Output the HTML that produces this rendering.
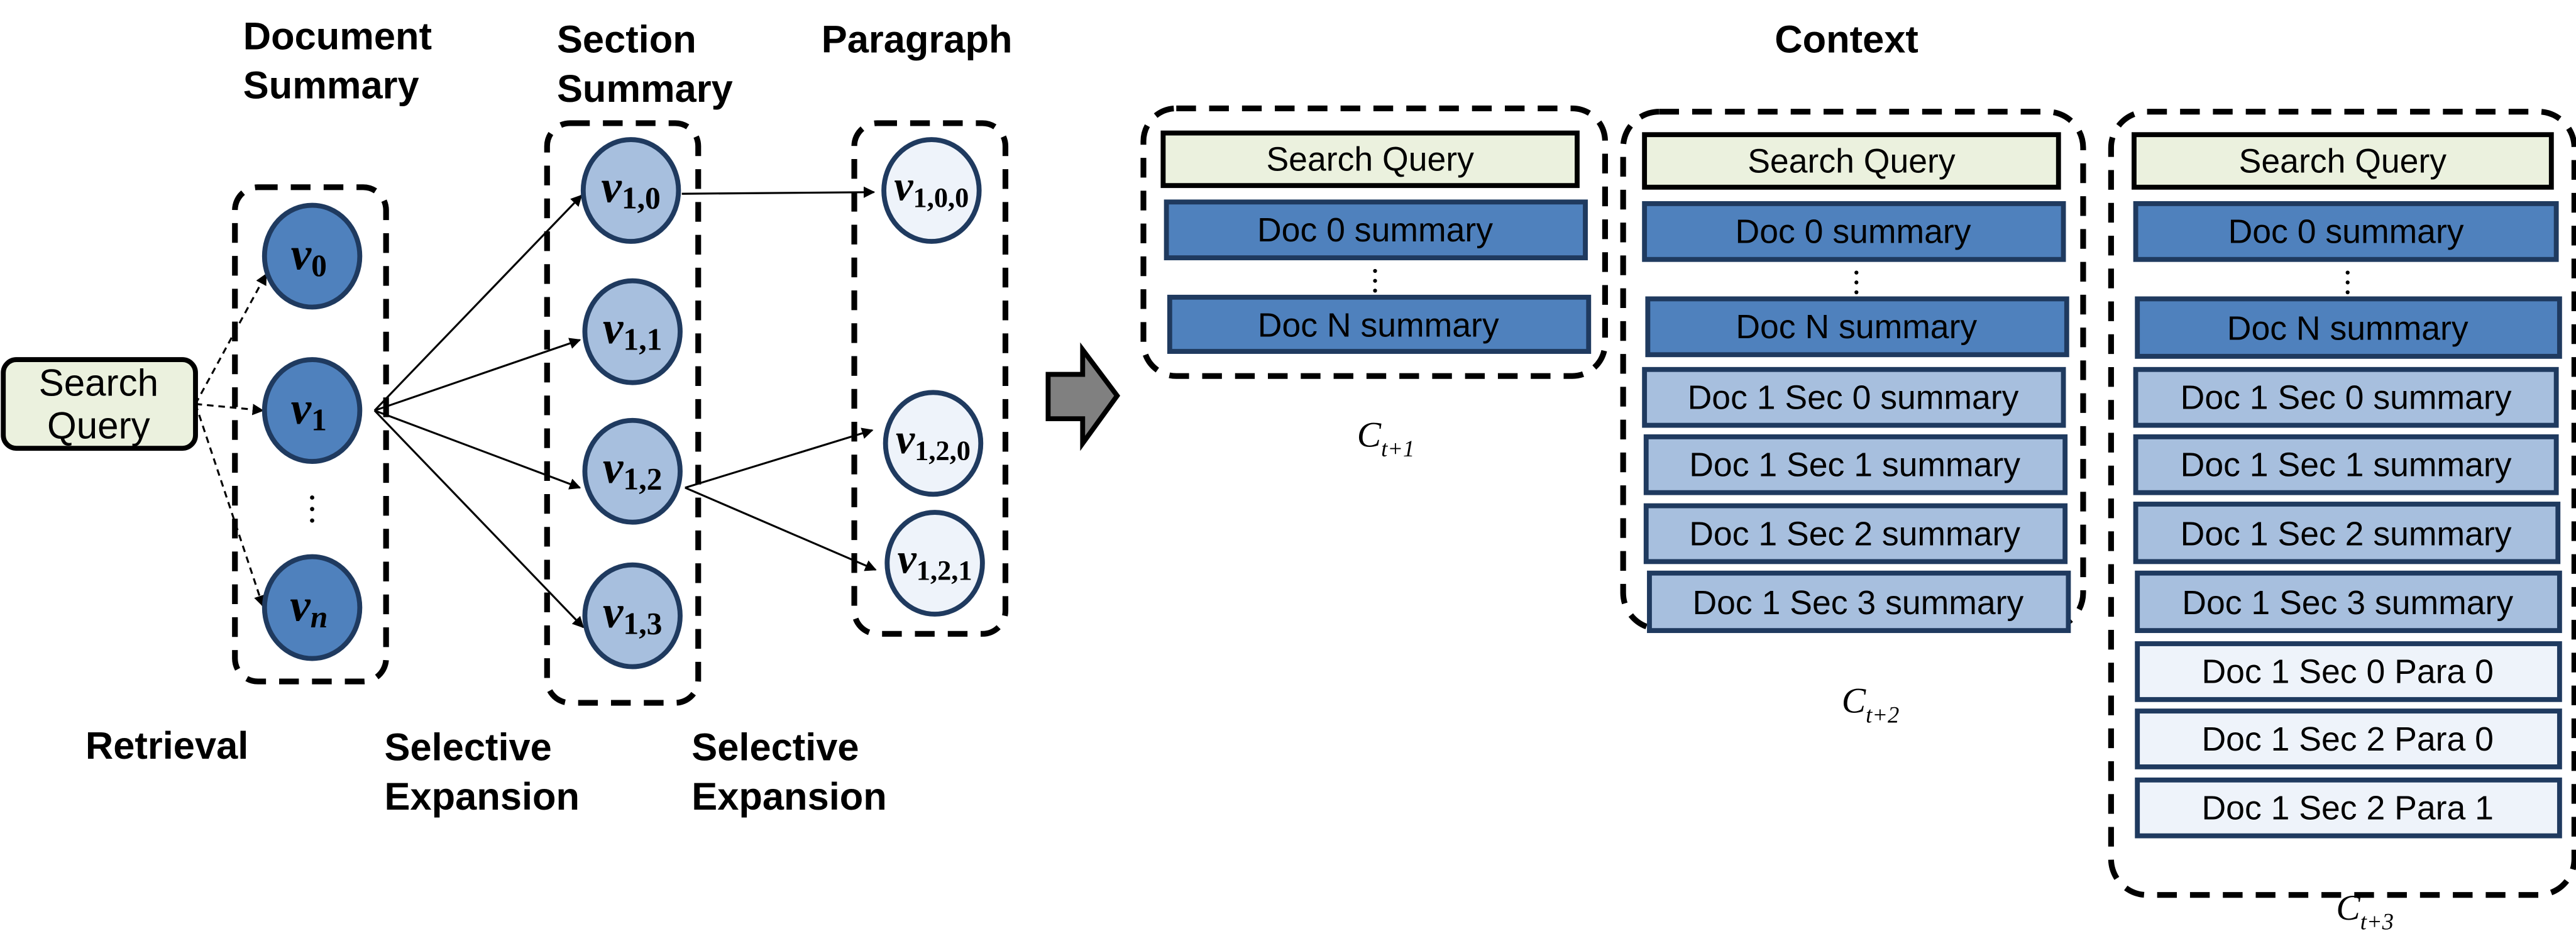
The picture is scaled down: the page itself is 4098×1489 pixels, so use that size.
<!DOCTYPE html>
<html><head><meta charset="utf-8"><style>
html,body{margin:0;padding:0;background:#fff;}
svg{display:block;}
.h{font-family:"Liberation Sans",Arial,sans-serif;font-weight:bold;font-size:23.5px;fill:#000;}
.bx{font-family:"Liberation Sans",Arial,sans-serif;font-size:20.5px;fill:#000;text-anchor:middle;}
.v{font-family:"Liberation Serif",serif;font-style:italic;font-weight:bold;font-size:28px;text-anchor:middle;fill:#000;}
.c{font-family:"Liberation Serif",serif;font-style:italic;font-size:22px;fill:#000;}
</style></head><body>
<svg width="4098" height="1489" viewBox="0 0 1568 570" preserveAspectRatio="none" xmlns="http://www.w3.org/2000/svg">
<defs>
<marker id="a" viewBox="0 0 10 10" refX="9" refY="5" markerWidth="7" markerHeight="7" orient="auto" markerUnits="userSpaceOnUse"><path d="M0,0 L10,5 L0,10 z" fill="#000"/></marker>
</defs>
<text class="h" x="148" y="30">Document</text>
<text class="h" x="148" y="60">Summary</text>
<text class="h" x="339" y="32">Section</text>
<text class="h" x="339" y="62">Summary</text>
<text class="h" x="500" y="32">Paragraph</text>
<text class="h" x="1124" y="32" text-anchor="middle">Context</text>
<text class="h" x="52" y="462">Retrieval</text>
<text class="h" x="234" y="463">Selective</text>
<text class="h" x="234" y="493">Expansion</text>
<text class="h" x="421" y="463">Selective</text>
<text class="h" x="421" y="493">Expansion</text>

<rect x="2" y="219" width="117" height="54" rx="8" fill="#ebf1de" stroke="#000" stroke-width="3"/>
<text class="bx" x="60" y="241" style="font-size:23px">Search</text>
<text class="bx" x="60" y="267" style="font-size:23px">Query</text>

<g fill="none" stroke="#000" stroke-width="3.5" stroke-dasharray="12,8">
<rect x="143" y="114" width="92" height="301" rx="14"/>
<rect x="333" y="75" width="92" height="353" rx="14"/>
<rect x="520" y="75" width="92" height="311" rx="14"/>
<rect x="696" y="66" width="281" height="163" rx="20"/>
<rect x="988" y="68" width="280" height="315" rx="22"/>
<rect x="1285" y="68" width="282" height="477" rx="22"/>
</g>

<g stroke="#000" stroke-width="1.2" fill="none" marker-end="url(#a)">
<line x1="228" y1="250" x2="354" y2="119"/>
<line x1="228" y1="250" x2="353" y2="207"/>
<line x1="228" y1="250" x2="353" y2="297"/>
<line x1="228" y1="250" x2="355" y2="382"/>
<line x1="415" y1="118" x2="532" y2="117"/>
<line x1="417" y1="297" x2="531" y2="262"/>
<line x1="417" y1="297" x2="533" y2="347"/>
</g>
<g stroke="#000" stroke-width="1.2" fill="none" stroke-dasharray="4,3" marker-end="url(#a)">
<line x1="119" y1="246" x2="162" y2="167"/>
<line x1="119" y1="246" x2="160" y2="250"/>
<line x1="119" y1="246" x2="160" y2="369"/>
</g>

<g stroke="#1f3a5f" stroke-width="3">
<ellipse cx="190" cy="156" rx="29" ry="31" fill="#4f81bd"/>
<ellipse cx="190" cy="250" rx="29" ry="31" fill="#4f81bd"/>
<ellipse cx="190" cy="370" rx="29" ry="31" fill="#4f81bd"/>
<ellipse cx="384" cy="116" rx="29" ry="31" fill="#a7bfde"/>
<ellipse cx="385" cy="202" rx="29" ry="31" fill="#a7bfde"/>
<ellipse cx="385" cy="287" rx="29" ry="31" fill="#a7bfde"/>
<ellipse cx="385" cy="375" rx="29" ry="31" fill="#a7bfde"/>
<ellipse cx="567" cy="116" rx="29" ry="31" fill="#eef3fa"/>
<ellipse cx="568" cy="270" rx="29" ry="31" fill="#eef3fa"/>
<ellipse cx="569" cy="343" rx="29" ry="31" fill="#eef3fa"/>
</g>
<g fill="#000"><circle cx="190" cy="303" r="1.3"/><circle cx="190" cy="310" r="1.3"/><circle cx="190" cy="317" r="1.3"/></g>

<text class="v" x="188" y="164">v<tspan font-style="normal" font-size="19" dy="4">0</tspan></text>
<text class="v" x="188" y="258">v<tspan font-style="normal" font-size="19" dy="4">1</tspan></text>
<text class="v" x="188" y="378">v<tspan font-size="19" dy="4">n</tspan></text>
<text class="v" x="384" y="123">v<tspan font-style="normal" font-size="19" dy="4">1,0</tspan></text>
<text class="v" x="385" y="209">v<tspan font-style="normal" font-size="19" dy="4">1,1</tspan></text>
<text class="v" x="385" y="294">v<tspan font-style="normal" font-size="19" dy="4">1,2</tspan></text>
<text class="v" x="385" y="382">v<tspan font-style="normal" font-size="19" dy="4">1,3</tspan></text>
<text class="v" x="567" y="122" style="font-size:26px">v<tspan font-style="normal" font-size="17" dy="4">1,0,0</tspan></text>
<text class="v" x="568" y="276" style="font-size:26px">v<tspan font-style="normal" font-size="17" dy="4">1,2,0</tspan></text>
<text class="v" x="569" y="349" style="font-size:26px">v<tspan font-style="normal" font-size="17" dy="4">1,2,1</tspan></text>

<path d="M638,228 L659,228 L659,213 L680,241 L659,270 L659,255 L638,255 Z" fill="#808080" stroke="#000" stroke-width="3"/>

<g stroke-width="3">
<rect x="708" y="81" width="252" height="32" fill="#ebf1de" stroke="#000"/>
<rect x="710" y="123" width="255" height="34" fill="#4f81bd" stroke="#1f3a5f"/>
<rect x="712" y="181" width="255" height="33" fill="#4f81bd" stroke="#1f3a5f"/>
<rect x="1001" y="82" width="252" height="32" fill="#ebf1de" stroke="#000"/>
<rect x="1001" y="124" width="255" height="34" fill="#4f81bd" stroke="#1f3a5f"/>
<rect x="1003" y="182" width="255" height="34" fill="#4f81bd" stroke="#1f3a5f"/>
<rect x="1001" y="225" width="255" height="34" fill="#a7bfde" stroke="#1f3a5f"/>
<rect x="1002" y="266" width="255" height="34" fill="#a7bfde" stroke="#1f3a5f"/>
<rect x="1002" y="308" width="255" height="34" fill="#a7bfde" stroke="#1f3a5f"/>
<rect x="1004" y="349" width="255" height="35" fill="#a7bfde" stroke="#1f3a5f"/>
<rect x="1299" y="82" width="254" height="32" fill="#ebf1de" stroke="#000"/>
<rect x="1300" y="124" width="256" height="34" fill="#4f81bd" stroke="#1f3a5f"/>
<rect x="1301" y="182" width="257" height="35" fill="#4f81bd" stroke="#1f3a5f"/>
<rect x="1300" y="225" width="256" height="34" fill="#a7bfde" stroke="#1f3a5f"/>
<rect x="1300" y="266" width="256" height="34" fill="#a7bfde" stroke="#1f3a5f"/>
<rect x="1300" y="307" width="257" height="35" fill="#a7bfde" stroke="#1f3a5f"/>
<rect x="1301" y="349" width="257" height="35" fill="#a7bfde" stroke="#1f3a5f"/>
<rect x="1301" y="392" width="257" height="34" fill="#eef3fa" stroke="#1f3a5f"/>
<rect x="1301" y="433" width="257" height="34" fill="#eef3fa" stroke="#1f3a5f"/>
<rect x="1301" y="475" width="257" height="34" fill="#eef3fa" stroke="#1f3a5f"/>
</g>
<g fill="#000">
<circle cx="837" cy="165" r="1.2"/><circle cx="837" cy="171" r="1.2"/><circle cx="837" cy="177" r="1.2"/>
<circle cx="1130" cy="166" r="1.2"/><circle cx="1130" cy="172" r="1.2"/><circle cx="1130" cy="178" r="1.2"/>
<circle cx="1429" cy="166" r="1.2"/><circle cx="1429" cy="172" r="1.2"/><circle cx="1429" cy="178" r="1.2"/>
</g>
<text class="bx" x="834" y="104">Search Query</text>
<text class="bx" x="837" y="147">Doc 0 summary</text>
<text class="bx" x="839" y="205">Doc N summary</text>

<text class="bx" x="1127" y="105">Search Query</text>
<text class="bx" x="1128" y="148">Doc 0 summary</text>
<text class="bx" x="1130" y="206">Doc N summary</text>
<text class="bx" x="1128" y="249">Doc 1 Sec 0 summary</text>
<text class="bx" x="1129" y="290">Doc 1 Sec 1 summary</text>
<text class="bx" x="1129" y="332">Doc 1 Sec 2 summary</text>
<text class="bx" x="1131" y="374">Doc 1 Sec 3 summary</text>

<text class="bx" x="1426" y="105">Search Query</text>
<text class="bx" x="1428" y="148">Doc 0 summary</text>
<text class="bx" x="1429" y="207">Doc N summary</text>
<text class="bx" x="1428" y="249">Doc 1 Sec 0 summary</text>
<text class="bx" x="1428" y="290">Doc 1 Sec 1 summary</text>
<text class="bx" x="1428" y="332">Doc 1 Sec 2 summary</text>
<text class="bx" x="1429" y="374">Doc 1 Sec 3 summary</text>
<text class="bx" x="1429" y="416">Doc 1 Sec 0 Para 0</text>
<text class="bx" x="1429" y="457">Doc 1 Sec 2 Para 0</text>
<text class="bx" x="1429" y="499">Doc 1 Sec 2 Para 1</text>

<text class="c" x="826" y="272" font-size="26">C<tspan font-size="14" dy="6">t+1</tspan></text>
<text class="c" x="1121" y="434" font-size="26">C<tspan font-size="14" dy="6">t+2</tspan></text>
<text class="c" x="1422" y="560" font-size="26">C<tspan font-size="14" dy="6">t+3</tspan></text>
</svg>
</body></html>
